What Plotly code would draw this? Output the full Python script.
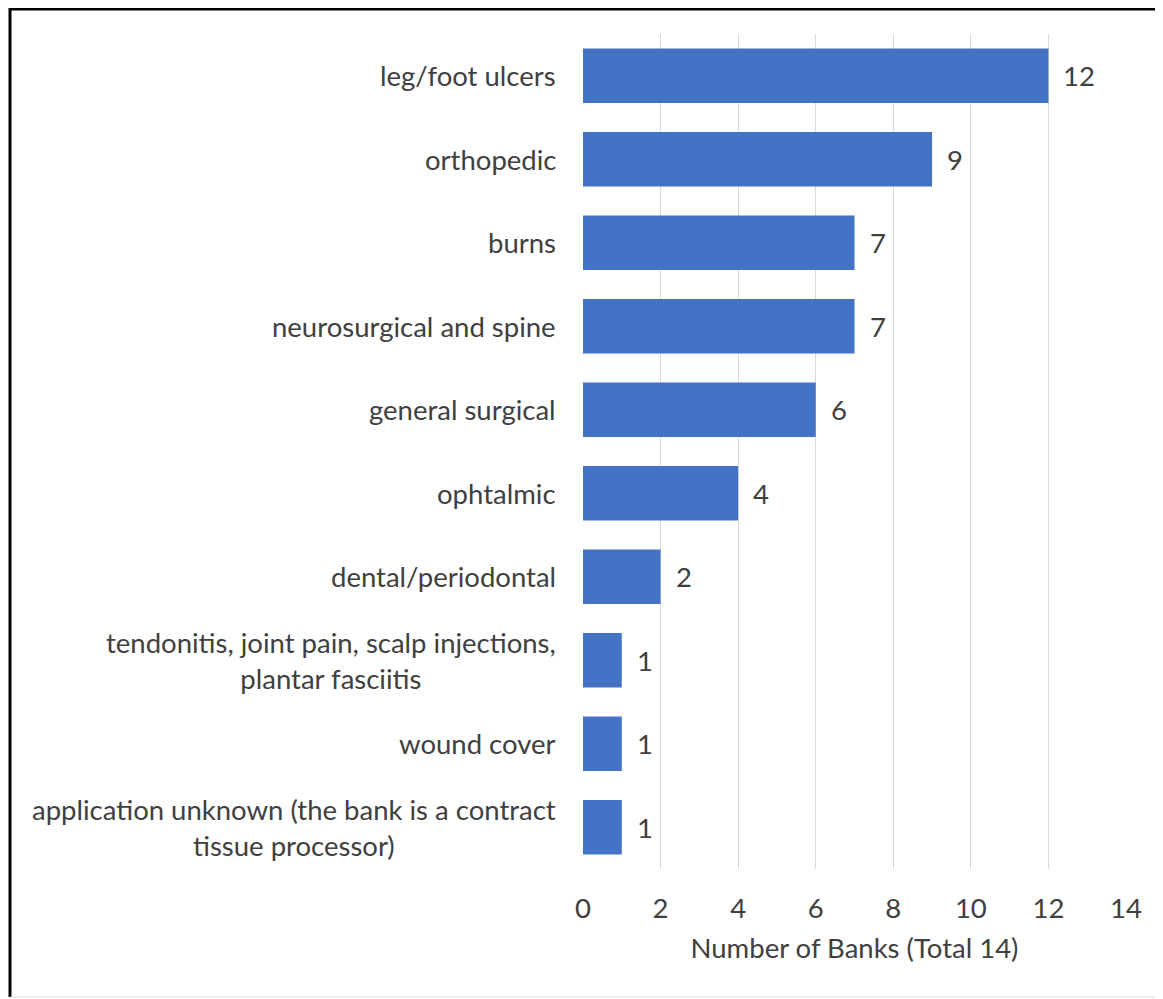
import plotly.graph_objects as go

categories = [
    "leg/foot ulcers",
    "orthopedic",
    "burns",
    "neurosurgical and spine",
    "general surgical",
    "ophtalmic",
    "dental/periodontal",
    "tendonitis, joint pain, scalp injections,<br>plantar fasciitis",
    "wound cover",
    "application unknown (the bank is a contract<br>tissue processor)",
]
values = [12, 9, 7, 7, 6, 4, 2, 1, 1, 1]
x_ticks = [0, 2, 4, 6, 8, 10, 12, 14]
x_title = "Number of Banks (Total 14)"

OFF = 8  # page body margin
W, H = 1163 - OFF, 999 - OFF
L, R, T, B = 583 - OFF, 1126 - OFF, 34 - OFF, 869 - OFF
FONT = "Lato"
FS = 27.5
TXT = "#404040"

def px_x(p):
    return (p - OFF - L) / (R - L)

def px_y(p):
    return (B - (p - OFF)) / (B - T)

fig = go.Figure()
fig.add_trace(go.Bar(
    x=values, y=categories, orientation="h",
    marker=dict(color="#4472C4", line=dict(width=0)),
    hoverinfo="skip",
))

annotations = []
for c, v in zip(categories, values):
    annotations.append(dict(
        x=0, xref="paper", y=c, yref="y", text=c, showarrow=False,
        xanchor="right", yanchor="middle", align="center", xshift=-25,
        font=dict(family=FONT, size=FS, color=TXT),
    ))
    annotations.append(dict(
        x=v, xref="x", y=c, yref="y", text=str(v), showarrow=False,
        xanchor="left", yanchor="middle", xshift=13,
        font=dict(family=FONT, size=FS, color=TXT),
    ))

shapes = [
    dict(type="line", xref="paper", yref="paper", x0=px_x(10), x1=px_x(10),
         y0=px_y(8), y1=px_y(997), line=dict(color="black", width=3)),
    dict(type="line", xref="paper", yref="paper", x0=px_x(10), x1=px_x(1161),
         y0=px_y(9), y1=px_y(9), line=dict(color="black", width=3)),
    dict(type="line", xref="paper", yref="paper", x0=px_x(1161), x1=px_x(1161),
         y0=px_y(8), y1=px_y(997), line=dict(color="#bfbfbf", width=1)),
    dict(type="line", xref="paper", yref="paper", x0=px_x(10), x1=px_x(1161),
         y0=px_y(997), y1=px_y(997), line=dict(color="#d9d9d9", width=1)),
]

fig.update_layout(
    width=W, height=H,
    margin=dict(l=L, r=W - R, t=T, b=H - B, pad=0),
    paper_bgcolor="white", plot_bgcolor="white",
    bargap=0.35, showlegend=False,
    font=dict(family=FONT, size=FS, color=TXT),
    annotations=annotations, shapes=shapes,
    xaxis=dict(
        range=[0, 14], tickvals=x_ticks, ticktext=[str(t) for t in x_ticks],
        showgrid=True, gridcolor="#d9d9d9", gridwidth=1,
        zeroline=False, showline=False, ticks="",
        ticklabelstandoff=20,
        tickfont=dict(family=FONT, size=FS, color=TXT),
        title=dict(text=x_title, font=dict(family=FONT, size=FS, color=TXT), standoff=16),
    ),
    yaxis=dict(
        categoryorder="array", categoryarray=categories, autorange="reversed",
        showticklabels=False, showgrid=False, zeroline=False, showline=False, ticks="",
    ),
)

fig.write_html("out.html")
